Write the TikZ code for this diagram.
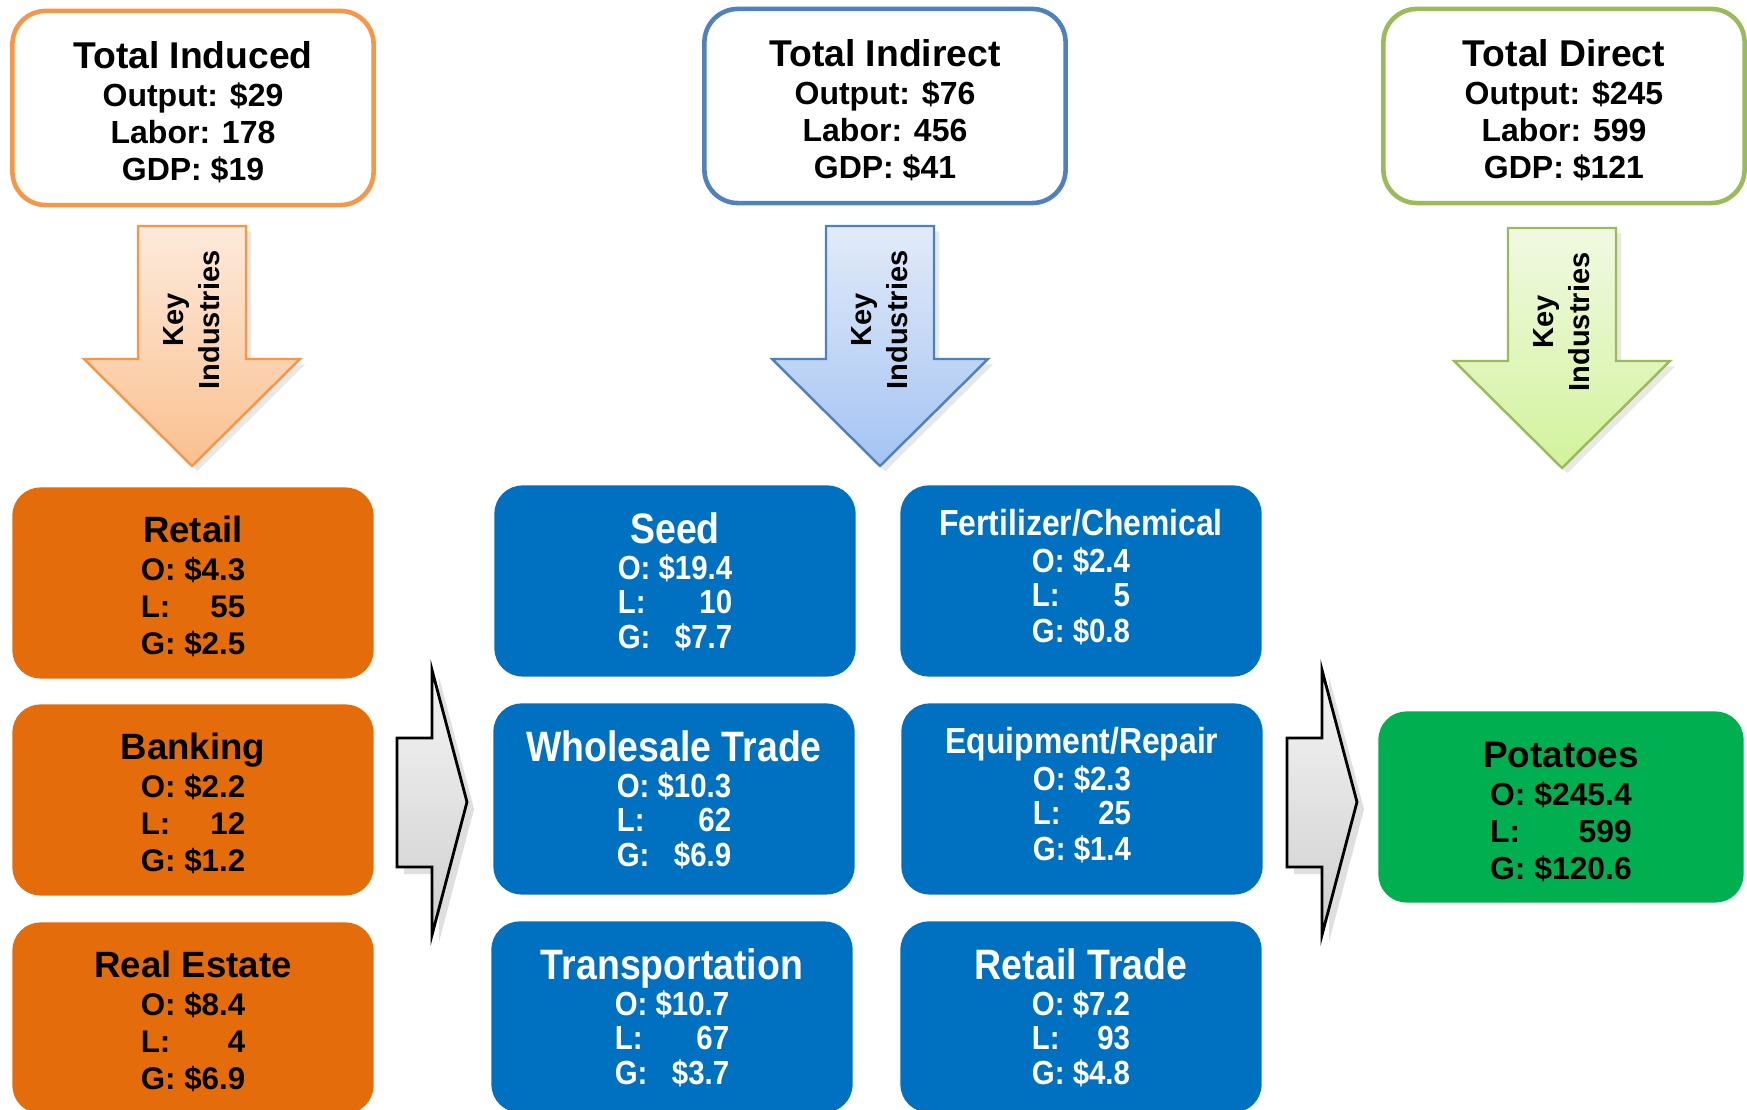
\documentclass[tikz,border=0pt]{standalone}
\usepackage{fontspec}
\setmainfont{Liberation Sans}
\newfontfamily\narrowsf{Liberation Sans}[FakeStretch=0.88]
\usetikzlibrary{shadows}

\definecolor{indorange}{HTML}{E46C0A}
\definecolor{indblue}{HTML}{0070C0}
\definecolor{dirgreen}{HTML}{00B050}
\definecolor{edgeorange}{HTML}{F79646}
\definecolor{edgeblue}{HTML}{4F81BD}
\definecolor{edgegreen}{HTML}{9BBB59}
\definecolor{toporange}{HTML}{FDEADB}
\definecolor{botorange}{HTML}{FAC08F}
\definecolor{topblue}{HTML}{E2EBF8}
\definecolor{botblue}{HTML}{A4C3F4}
\definecolor{topgreen}{HTML}{F1F9E2}
\definecolor{botgreen}{HTML}{D2F39C}

\newcommand{\fsz}[2]{\fontsize{#1}{#2}\selectfont}
% title line: size, strut height, text
\newcommand{\ttl}[3]{{\fsz{#1}{12}\rule{0pt}{#2}#3}}
\newcommand{\totals}[4]{\ttl{10.6}{10pt}{#1}\\[0.3pt]Output: #2\\Labor: #3\\GDP: #4}
\newcommand{\olg}[3]{\begin{tabular}[t]{@{}l@{\ }r@{}}O: & #1\\ L: & #2\\ G: & #3\end{tabular}}

\tikzset{
  totbox/.style={draw=#1, line width=1.3pt, fill=white, rounded corners=9.5pt,
    minimum width=3.61cm, minimum height=1.94cm, inner sep=0pt, align=center,
    font=\fsz{9.1}{10.5}\bfseries},
  indbox/.style={fill=#1, rounded corners=8pt, minimum width=3.61cm,
    minimum height=1.91cm, inner sep=0pt, align=center},
  orgbox/.style={indbox=indorange, font=\fsz{8.9}{10.5}\bfseries},
  bluebox/.style={indbox=indblue, text=white, font=\narrowsf\fsz{9.5}{9.8}\bfseries},
  grnbox/.style={indbox=dirgreen, font=\fsz{9.05}{10.5}\bfseries},
  keytext/.style={rotate=90, align=center, inner sep=0pt, font=\fsz{8.25}{10.2}\bfseries},
}

\begin{document}
\begin{tikzpicture}[x=0.01cm, y=-0.01cm]
\useasboundingbox (0,0) rectangle (1747,1110);

% --- Totals ---
\node[totbox=edgeorange] (induced) at (193,108) {\totals{Total Induced}{\$29}{178}{\$19}};
\node[totbox=edgeblue] (indirect) at (885,106) {\totals{Total Indirect}{\$76}{456}{\$41}};
\node[totbox=edgegreen] (direct) at (1564,106) {\totals{Total Direct}{\$245}{599}{\$121}};

% --- Key industries arrows ---
\foreach \cx/\ty/\tc/\bc/\ec/\nm in {192/226/toporange/botorange/edgeorange/induced,
    880/226/topblue/botblue/edgeblue/indirect, 1562/228/topgreen/botgreen/edgegreen/direct} {
  \draw[draw=\ec, line width=0.7pt, top color=\tc, bottom color=\bc,
        drop shadow={opacity=0.18, shadow xshift=1.5pt, shadow yshift=-1.5pt}]
    (\cx-54,\ty) -- (\cx+54,\ty) -- (\cx+54,\ty+133) -- (\cx+108,\ty+133)
    -- (\cx,\ty+240) -- (\cx-108,\ty+133) -- (\cx-54,\ty+133) -- cycle;
  \node[keytext] (key-\nm) at (\cx,\ty+94) {Key\\Industries};
}

% --- Induced industries ---
\node[orgbox] (retail) at (193,583) {\ttl{10.4}{12pt}{Retail}\\[0.1pt]\olg{\$4.3}{55}{\$2.5}};
\node[orgbox] (banking) at (193,800) {\ttl{10.4}{12pt}{Banking}\\[0.1pt]\olg{\$2.2}{12}{\$1.2}};
\node[orgbox] (realest) at (193,1018) {\ttl{10.4}{12pt}{Real Estate}\\[0.1pt]\olg{\$8.4}{4}{\$6.9}};

% --- Indirect industries ---
\node[bluebox] (seed) at (675,581) {\ttl{12.1}{11.6pt}{Seed}\\[0.4pt]\olg{\$19.4}{10}{\$7.7}};
\node[bluebox] (fert) at (1081,581) {{\fsz{10.3}{11}Fertilizer/Chemical}\\[0.6pt]\olg{\$2.4}{5}{\$0.8}};
\node[bluebox] (wholesale) at (674,799) {\ttl{12.1}{11.4pt}{Wholesale Trade}\\[0.4pt]\olg{\$10.3}{62}{\$6.9}};
\node[bluebox] (equip) at (1082,799) {{\fsz{10.3}{11}Equipment/Repair}\\[0.6pt]\olg{\$2.3}{25}{\$1.4}};
\node[bluebox] (transport) at (672,1017) {\ttl{12.1}{11.4pt}{Transportation}\\[0.4pt]\olg{\$10.7}{67}{\$3.7}};
\node[bluebox] (rettrade) at (1081,1017) {\ttl{12.1}{11.4pt}{Retail Trade}\\[0.4pt]\olg{\$7.2}{93}{\$4.8}};

% --- Direct industry ---
\node[grnbox, minimum width=3.65cm] (potatoes) at (1561,807) {\ttl{10.5}{12.7pt}{Potatoes}\\[0.3pt]\olg{\$245.4}{599}{\$120.6}};

% --- Flow arrows (grey) ---
\foreach \ax in {397,1287} {
  \draw[line width=0.8pt, top color=gray!8, bottom color=gray!38,
        drop shadow={opacity=0.25, shadow xshift=2pt, shadow yshift=-2pt}]
    (\ax,738) -- (\ax+35,738) -- (\ax+35,670) -- (\ax+70,802) -- (\ax+35,935)
    -- (\ax+35,867) -- (\ax,867) -- cycle;
}
\end{tikzpicture}
\end{document}
